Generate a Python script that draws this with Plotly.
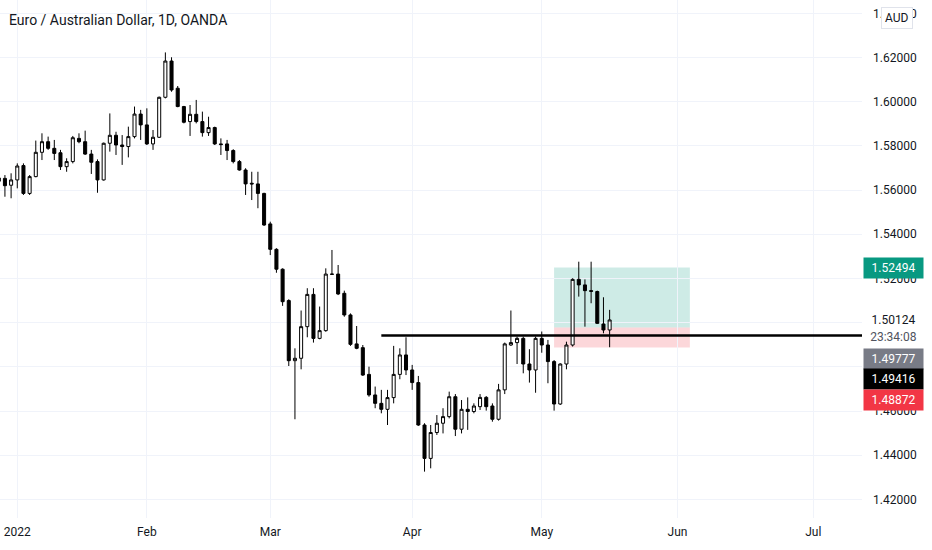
"""EUR/AUD diario (OANDA) con nivel horizontal y herramienta de posición larga."""

import pandas as pd
import plotly.graph_objects as go

# Velas diarias, 29-dic-2021 a 17-may-2022 (sin fines de semana).
DATES = pd.bdate_range("2021-12-29", "2022-05-17")
OPEN = [
    1.5655, 1.5653, 1.5622, 1.5646, 1.5711, 1.5585, 1.5661, 1.5771, 1.5819, 1.5789,
    1.5769, 1.5706, 1.5729, 1.5834, 1.5819, 1.5763, 1.5729, 1.5646, 1.5812, 1.5848,
    1.5804, 1.5797, 1.5842, 1.5944, 1.5895, 1.5809, 1.5839, 1.6020, 1.6184, 1.6061,
    1.5978, 1.5910, 1.5943, 1.5910, 1.5860, 1.5883, 1.5809, 1.5809, 1.5779, 1.5729,
    1.5691, 1.5631, 1.5628, 1.5585, 1.5447, 1.5332, 1.5242, 1.5100, 1.4828, 1.4839,
    1.4982, 1.5128, 1.4929, 1.4964, 1.5220, 1.5220, 1.5133, 1.5035, 1.4904, 1.4887,
    1.4766, 1.4673, 1.4635, 1.4608, 1.4661, 1.4766, 1.4854, 1.4786, 1.4729, 1.4537,
    1.4386, 1.4503, 1.4545, 1.4575, 1.4665, 1.4518, 1.4608, 1.4598, 1.4620, 1.4662,
    1.4623, 1.4563, 1.4696, 1.4899, 1.4910, 1.4929, 1.4813, 1.4786, 1.4929, 1.4899,
    1.4824, 1.4632, 1.4813, 1.4899, 1.5196, 1.5171, 1.5145, 1.5141, 1.4994, 1.4967,
]
HIGH = [
    1.5668, 1.5668, 1.5676, 1.5721, 1.5721, 1.5668, 1.5824, 1.5857, 1.5842, 1.5827,
    1.5782, 1.5744, 1.5845, 1.5857, 1.5869, 1.5782, 1.5739, 1.5815, 1.5947, 1.5864,
    1.5849, 1.5887, 1.5978, 1.5963, 1.5970, 1.5872, 1.6023, 1.6223, 1.6201, 1.6071,
    1.5981, 1.5985, 1.6008, 1.5955, 1.5932, 1.5887, 1.5834, 1.5827, 1.5785, 1.5736,
    1.5699, 1.5683, 1.5683, 1.5588, 1.5457, 1.5337, 1.5246, 1.5106, 1.4884, 1.5055,
    1.5156, 1.5156, 1.5073, 1.5246, 1.5329, 1.5261, 1.5145, 1.5042, 1.4985, 1.4899,
    1.4801, 1.4711, 1.4696, 1.4696, 1.4895, 1.4884, 1.4934, 1.4809, 1.4759, 1.4545,
    1.4537, 1.4582, 1.4613, 1.4688, 1.4677, 1.4650, 1.4662, 1.4635, 1.4677, 1.4668,
    1.4635, 1.4723, 1.4910, 1.5055, 1.4937, 1.4937, 1.4880, 1.4937, 1.4960, 1.4922,
    1.4831, 1.4816, 1.4914, 1.5201, 1.5276, 1.5196, 1.5276, 1.5145, 1.5115, 1.5058,
]
LOW = [
    1.5630, 1.5570, 1.5563, 1.5608, 1.5578, 1.5578, 1.5658, 1.5736, 1.5782, 1.5736,
    1.5691, 1.5683, 1.5721, 1.5812, 1.5759, 1.5673, 1.5588, 1.5643, 1.5774, 1.5759,
    1.5714, 1.5748, 1.5834, 1.5827, 1.5804, 1.5782, 1.5836, 1.6015, 1.6045, 1.5975,
    1.5902, 1.5845, 1.5902, 1.5842, 1.5845, 1.5804, 1.5759, 1.5736, 1.5721, 1.5688,
    1.5578, 1.5555, 1.5518, 1.5438, 1.5306, 1.5226, 1.5076, 1.4804, 1.4563, 1.4789,
    1.4934, 1.4910, 1.4925, 1.4959, 1.5216, 1.5125, 1.5027, 1.4895, 1.4880, 1.4759,
    1.4665, 1.4613, 1.4590, 1.4537, 1.4635, 1.4744, 1.4763, 1.4696, 1.4533, 1.4326,
    1.4341, 1.4492, 1.4499, 1.4567, 1.4487, 1.4499, 1.4515, 1.4590, 1.4605, 1.4602,
    1.4552, 1.4557, 1.4677, 1.4895, 1.4813, 1.4771, 1.4729, 1.4683, 1.4864, 1.4726,
    1.4602, 1.4628, 1.4789, 1.4892, 1.5118, 1.4982, 1.5088, 1.4994, 1.4952, 1.4889,
]
CLOSE = [
    1.5640, 1.5620, 1.5646, 1.5709, 1.5585, 1.5661, 1.5771, 1.5819, 1.5789, 1.5766,
    1.5706, 1.5729, 1.5837, 1.5819, 1.5763, 1.5726, 1.5646, 1.5812, 1.5848, 1.5804,
    1.5797, 1.5842, 1.5944, 1.5895, 1.5809, 1.5839, 1.6020, 1.6184, 1.6053, 1.5978,
    1.5907, 1.5943, 1.5910, 1.5860, 1.5883, 1.5809, 1.5806, 1.5779, 1.5729, 1.5691,
    1.5628, 1.5628, 1.5585, 1.5442, 1.5332, 1.5242, 1.5095, 1.4828, 1.4839, 1.4982,
    1.5128, 1.4929, 1.4964, 1.5220, 1.5219, 1.5130, 1.5035, 1.4902, 1.4884, 1.4763,
    1.4673, 1.4635, 1.4608, 1.4661, 1.4766, 1.4854, 1.4786, 1.4729, 1.4537, 1.4386,
    1.4503, 1.4545, 1.4575, 1.4665, 1.4518, 1.4608, 1.4598, 1.4623, 1.4662, 1.4620,
    1.4563, 1.4696, 1.4904, 1.4910, 1.4929, 1.4813, 1.4786, 1.4929, 1.4899, 1.4824,
    1.4632, 1.4813, 1.4899, 1.5196, 1.5171, 1.5145, 1.5142, 1.4997, 1.4967, 1.50124,
]

MONTH_TICKS = ["2022-01-03", "2022-02-01", "2022-03-01", "2022-04-01",
               "2022-05-02", "2022-06-01", "2022-07-01"]
MONTH_LABELS = ["2022", "Feb", "Mar", "Apr", "May", "Jun", "Jul"]
PRICE_TICKS = [1.42, 1.44, 1.46, 1.48, 1.50, 1.52, 1.54, 1.56, 1.58, 1.60, 1.62, 1.64]
# 1.48 y 1.50 quedan tapados por las etiquetas de precio: solo su línea de grilla.
PRICE_LABELS = ["1.42000", "1.44000", "1.46000", "", "", "1.52000", "1.54000",
                "1.56000", "1.58000", "1.60000", "1.62000", "1.64000"]

# Dibujos: nivel horizontal y posición larga (entrada / objetivo / stop).
LEVEL = 1.49416
LEVEL_START = "2022-03-25"
ENTRY, TARGET, STOP = 1.49777, 1.52494, 1.48872
POS_START, POS_END = "2022-05-04", "2022-06-03"
LAST_PRICE = 1.50124
COUNTDOWN = "23:34:08"

X_RANGE = ["2021-12-29 04:48", "2022-07-12 21:36"]
Y_RANGE = [1.41162, 1.64602]

FONT = "Roboto"
TEXT = "#131722"
GRID = "#f0f3fa"

fig = go.Figure(go.Candlestick(
    x=DATES, open=OPEN, high=HIGH, low=LOW, close=CLOSE,
    increasing=dict(line=dict(color="#000000", width=1), fillcolor="#ffffff"),
    decreasing=dict(line=dict(color="#000000", width=1), fillcolor="#000000"),
    whiskerwidth=0, showlegend=False, hoverinfo="skip",
))

# Zona de objetivo (verde) y de stop (roja), debajo de las velas.
fig.add_shape(type="rect", x0=POS_START, x1=POS_END, y0=ENTRY, y1=TARGET,
              fillcolor="rgba(8,153,129,0.2)", line_width=0, layer="below")
fig.add_shape(type="rect", x0=POS_START, x1=POS_END, y0=STOP, y1=ENTRY,
              fillcolor="rgba(242,54,69,0.2)", line_width=0, layer="below")
fig.add_shape(type="line", x0=LEVEL_START, x1=X_RANGE[1], y0=LEVEL, y1=LEVEL,
              line=dict(color="#000000", width=2.5), layer="above")


def price_tag(value, bg, shift=0, fg="#ffffff"):
    """Etiqueta sobre el eje de precios, apilada como en TradingView."""
    fig.add_annotation(
        xref="paper", x=1, xanchor="left", xshift=1, yref="y", y=value, yshift=shift,
        text=f"{value:.5f}", showarrow=False, bgcolor=bg, borderpad=0,
        width=59, height=20, align="center", font=dict(family=FONT, size=12, color=fg),
    )


price_tag(TARGET, "#089981")
fig.add_annotation(xref="paper", x=1, xanchor="left", xshift=1, yref="y", y=LAST_PRICE,
                   text=f"{LAST_PRICE:.5f}", showarrow=False, bgcolor="#ffffff",
                   width=59, height=17, borderpad=0, align="center",
                   font=dict(family=FONT, size=12, color=TEXT))
fig.add_annotation(xref="paper", x=1, xanchor="left", xshift=1, yref="y", y=LAST_PRICE,
                   yshift=-17, text=COUNTDOWN, showarrow=False, bgcolor="#ffffff",
                   width=59, height=17, borderpad=0, align="center",
                   font=dict(family=FONT, size=12, color="#50535e"))
price_tag(ENTRY, "#787b86", shift=-31)
price_tag(LEVEL, "#000000", shift=-43)
price_tag(STOP, "#f23645", shift=-52)

# Título y moneda.
fig.add_annotation(xref="paper", x=0, xanchor="left", xshift=7, yref="paper", y=1,
                   yanchor="middle", yshift=-20, text="Euro / Australian Dollar, 1D, OANDA",
                   showarrow=False, font=dict(family=FONT, size=14, color=TEXT))
fig.add_annotation(xref="paper", x=1, xanchor="center", xshift=35, yref="paper", y=1,
                   yanchor="middle", yshift=-18, text="AUD", showarrow=False,
                   bgcolor="#ffffff", bordercolor="#e0e3eb", borderwidth=1, borderpad=3,
                   font=dict(family=FONT, size=12, color=TEXT))

fig.update_layout(
    width=932, height=550, margin=dict(l=0, r=70, t=0, b=32),
    paper_bgcolor="#ffffff", plot_bgcolor="#ffffff",
    font=dict(family=FONT, size=12, color=TEXT),
    xaxis=dict(
        range=X_RANGE, rangebreaks=[dict(bounds=["sat", "mon"])],
        rangeslider=dict(visible=False), tickvals=MONTH_TICKS, ticktext=MONTH_LABELS,
        showgrid=True, gridcolor=GRID, zeroline=False, showline=False, ticks="",
        ticklabelstandoff=5,
    ),
    yaxis=dict(
        side="right", range=Y_RANGE, tickvals=PRICE_TICKS, ticktext=PRICE_LABELS,
        showgrid=True, gridcolor=GRID, zeroline=False, showline=False, ticks="",
        ticklabelstandoff=10,
    ),
)

# La página por defecto deja 8px de margen en <body>; se quita para usar toda la ventana.
fig.write_html("out.html", config={"displayModeBar": False},
               post_script="document.body.style.margin = '0';")
